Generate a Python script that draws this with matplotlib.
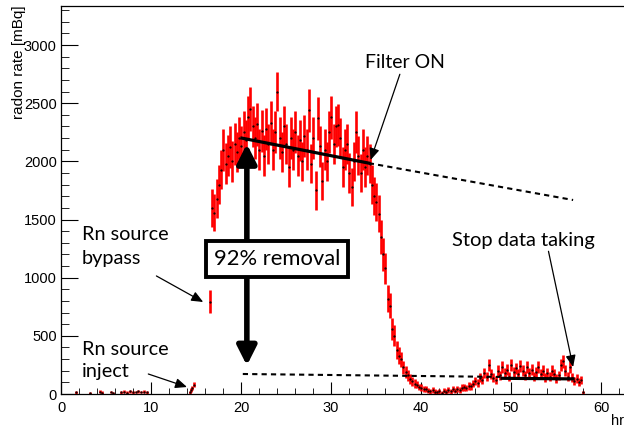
import matplotlib
matplotlib.use('Agg')
import matplotlib.pyplot as plt
import numpy as np
from matplotlib.ticker import MultipleLocator

# background before the source is opened (hours, mBq)
t_bg = [1.7, 3.2, 4.3, 4.5, 5.5, 5.8, 6.7, 7.0, 7.3, 7.7, 8.0, 8.3, 8.6, 8.9, 9.2, 9.5]
rate_bg = [15, 10, 20, 12, 18, 10, 14, 20, 12, 22, 15, 18, 25, 16, 20, 14]
err_bg = [12, 10, 12, 10, 12, 10, 11, 12, 10, 12, 11, 12, 13, 11, 12, 10]

# Rn source inject
t_inj = [14.3, 14.45, 14.6, 14.75]
rate_inj = [15, 35, 55, 80]
err_inj = [12, 15, 18, 20]

# Rn source bypass
t_byp = [16.6]
rate_byp = [795]
err_byp = [97]

# main run, one point every 0.25 h starting at 16.8 h
t_start = 16.8
t_step = 0.25
rate_main = [
    1600, 1560, 1680, 1800,
    1930, 2100, 1980, 2050,
    2120, 2000, 2150, 2080,
    2200, 2130, 2250, 2180,
    2380, 2450, 2300, 2200,
    2320, 2100, 2260, 2050,
    2280, 2150, 2330, 2100,
    2250, 2600, 2200, 2080,
    2300, 2150, 1950, 2200,
    2100, 2250, 2050, 2180,
    2000, 2220, 2100, 2440,
    1980, 2200, 1750, 2370,
    2130, 1830, 2100, 2000,
    2250, 2380, 2150, 2300,
    2310, 2200, 1950, 2100,
    2150, 1900, 1780, 2000,
    2250, 2050, 1900, 2100,
    1950, 2050, 1980, 1800,
    1700, 1650, 1550, 1350,
    1200, 1080, 820, 760,
    560, 500, 380, 330,
    300, 230, 190, 160,
    130, 110, 90, 80,
    60, 55, 40, 45,
    30, 25, 35, 20,
    15, 25, 10, 30,
    20, 35, 25, 40,
    30, 45, 35, 55,
    60, 50, 70, 65,
    90, 110, 95, 140,
    120, 180, 150, 250,
    170, 140, 120, 200,
    160, 230, 180, 210,
    150, 250, 190, 220,
    170, 240, 200, 160,
    230, 180, 210, 150,
    190, 230, 170, 200,
    140, 180, 150, 200,
    170, 130, 160, 250,
    280, 200, 150, 230,
    140, 110, 130, 100,
    120, 15,
]
err_main = [
    160, 160, 165, 170,
    170, 180, 175, 175,
    180, 175, 180, 175,
    180, 175, 185, 180,
    185, 190, 180, 180,
    185, 175, 180, 175,
    180, 175, 185, 175,
    180, 170, 180, 175,
    180, 175, 170, 180,
    175, 180, 175, 180,
    170, 180, 175, 185,
    170, 180, 165, 185,
    175, 165, 175, 170,
    180, 185, 175, 180,
    180, 175, 170, 175,
    175, 170, 165, 170,
    180, 170, 165, 175,
    170, 170, 170, 165,
    165, 165, 160, 150,
    140, 135, 115, 110,
    95, 90, 75, 70,
    65, 55, 50, 45,
    40, 38, 35, 32,
    28, 28, 25, 25,
    22, 22, 24, 20,
    18, 22, 16, 22,
    20, 24, 22, 26,
    24, 27, 25, 28,
    30, 28, 32, 30,
    32, 36, 33, 40,
    38, 45, 42, 55,
    45, 40, 38, 48,
    42, 50, 45, 48,
    40, 52, 46, 48,
    44, 50, 46, 42,
    50, 45, 48, 40,
    46, 50, 44, 46,
    40, 45, 42, 46,
    44, 38, 42, 52,
    55, 46, 40, 50,
    40, 36, 38, 34,
    36, 15,
]

# fitted exponential before/after the filter and its extrapolation
fit_hi_x = [20.1, 34.2]
fit_hi_y = [2200, 1985]
ext_hi_x = [34.2, 56.9]
ext_hi_y = [1985, 1668]
fit_lo_x = [49.0, 56.9]
fit_lo_y = [135, 130]
ext_lo_x = [20.2, 48.8]
ext_lo_y = [172, 147]

t_main = t_start + t_step * np.arange(len(rate_main))

note_font = ['Lato', 'DejaVu Sans']
plt.rcParams['font.family'] = ['Liberation Sans', 'DejaVu Sans']

fig = plt.figure(figsize=(6.24, 4.30), dpi=100)
ax = fig.add_axes([61 / 624, 36 / 430, 567 / 624, 388 / 430])

# Messpunkte mit Fehlerbalken
for tt, rr, ee in [(t_bg, rate_bg, err_bg), (t_inj, rate_inj, err_inj),
                   (t_byp, rate_byp, err_byp), (t_main, rate_main, err_main)]:
    ax.errorbar(tt, rr, yerr=ee, fmt='.', color='black', ms=1.2,
                ecolor='#ff0000', elinewidth=1.9, capsize=0, zorder=2)

# Fit-Linien
ax.plot(fit_hi_x, fit_hi_y, color='black', lw=2.3, zorder=3)
ax.plot(ext_hi_x, ext_hi_y, color='black', lw=1.5, ls=(0, (2.5, 2)), zorder=3)
ax.plot(fit_lo_x, fit_lo_y, color='black', lw=2.3, zorder=3)
ax.plot(ext_lo_x, ext_lo_y, color='black', lw=1.5, ls=(0, (2.5, 2)), zorder=3)

# grosser Pfeil fuer die Reduktion
ax.annotate('', xy=(20.65, 2150), xytext=(20.65, 245),
            arrowprops=dict(arrowstyle='<|-|>,head_length=1.15,head_width=0.58',
                            mutation_scale=10, lw=4, color='black',
                            shrinkA=0, shrinkB=0), zorder=4)
ax.text(24.0, 1161, '92% removal', family=note_font, fontsize=15.8,
        ha='center', va='center', zorder=5,
        bbox=dict(boxstyle='square,pad=0.36', fc='white', ec='black', lw=2.8))

thin = dict(arrowstyle='-|>,head_length=0.7,head_width=0.3', mutation_scale=10,
            lw=0.9, color='black', shrinkA=0, shrinkB=0)
ax.annotate('Filter ON', xy=(34.4, 2012), xytext=(38.2, 2846),
            family=note_font, fontsize=14, ha='center', va='center',
            arrowprops=dict(thin, relpos=(0.45, 0.0)))
ax.annotate('Stop data taking', xy=(56.9, 232), xytext=(51.4, 1324),
            family=note_font, fontsize=14.5, ha='center', va='center',
            arrowprops=dict(thin, relpos=(0.67, 0.0)))
ax.text(2.3, 1268, 'Rn source\nbypass', family=note_font, fontsize=14.3,
        ha='left', va='center', linespacing=1.45)
ax.annotate('', xy=(15.8, 791), xytext=(10.6, 1015), arrowprops=thin)
ax.text(2.3, 290, 'Rn source\ninject', family=note_font, fontsize=14.3,
        ha='left', va='center', linespacing=1.35)
ax.annotate('', xy=(14.0, 60), xytext=(9.7, 172), arrowprops=thin)

# Achsen im ROOT-Stil
ax.set_xlim(0, 63)
ax.set_ylim(0, 3336)
ax.xaxis.set_major_locator(MultipleLocator(10))
ax.xaxis.set_minor_locator(MultipleLocator(2))
ax.yaxis.set_major_locator(MultipleLocator(500))
ax.yaxis.set_minor_locator(MultipleLocator(100))
ax.tick_params(axis='both', which='both', direction='in', labelsize=10.5)
ax.tick_params(axis='x', which='major', length=8.6, pad=5)
ax.tick_params(axis='x', which='minor', length=4.3)
ax.tick_params(axis='y', which='major', length=12, pad=3)
ax.tick_params(axis='y', which='minor', length=6)
for side in ['top', 'left', 'bottom', 'right']:
    ax.spines[side].set_linewidth(0.9)

fig.text(19 / 624, 1 - 5 / 430, 'radon rate [mBq]', rotation=90,
         ha='center', va='top', fontsize=11)
fig.text(611 / 624, 1 - 414 / 430, 'hr', ha='left', va='top', fontsize=10.5)

fig.savefig('out.png', dpi=100)
